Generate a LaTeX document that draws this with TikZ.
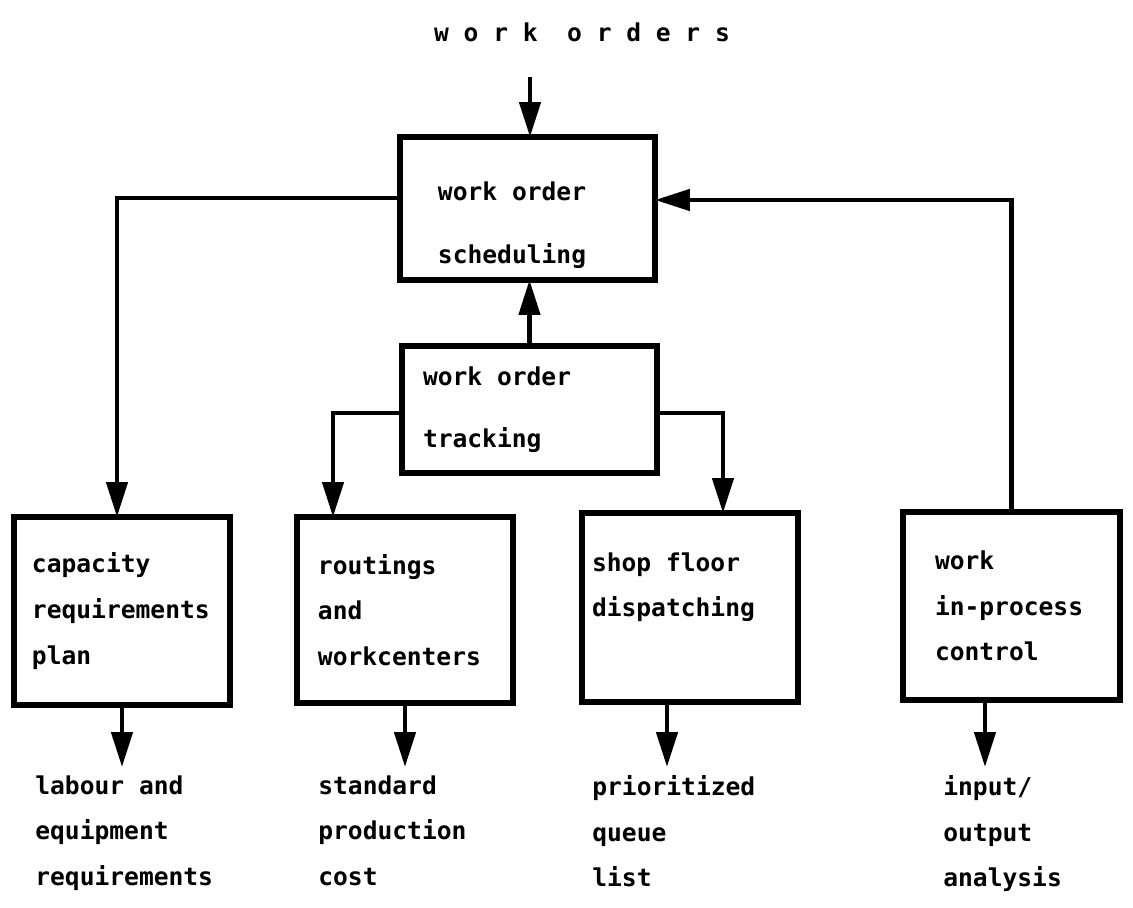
\documentclass[tikz,border=0pt]{standalone}
\usepackage{fontspec}
\setmonofont{DejaVu Sans Mono}
\usetikzlibrary{arrows.meta}
\begin{document}
\begin{tikzpicture}[x=0.02cm, y=-0.02cm,
    box/.style={draw, line width=3pt, anchor=north west, outer sep=0pt, align=flush left,
                font=\ttfamily\bfseries\fontsize{14}{26}\selectfont},
    outtext/.style={anchor=north west, align=left, inner xsep=0pt, inner ysep=0.16cm,
                font=\ttfamily\bfseries\fontsize{14}{26}\selectfont},
    arrow/.style={->, line width=2.6pt, >={Triangle[length=0.7cm, width=0.42cm]}}
]
\useasboundingbox (0,0) rectangle (1133,907);

% title
\node[font=\ttfamily\bfseries\fontsize{14}{26}\selectfont\addfontfeature{LetterSpace=60}] (orders) at (582,32) {work orders};

% upper boxes
\node[box, minimum width=5.1cm, minimum height=2.86cm, inner xsep=0.76cm, text width=3.58cm,
      font=\ttfamily\bfseries\fontsize{14}{36}\selectfont] (sched) at (400,137)
      {\rule{0pt}{1.05cm}work order\\scheduling};
\node[box, minimum width=5.1cm, minimum height=2.54cm, inner xsep=0.42cm, text width=4.26cm,
      font=\ttfamily\bfseries\fontsize{14}{35}\selectfont] (track) at (402,346)
      {work order\\tracking};

% lower boxes
\node[box, minimum width=4.32cm, minimum height=3.76cm, inner xsep=0.36cm, text width=3.6cm] (cap) at (14,517)
      {capacity\\requirements\\plan};
\node[box, minimum width=4.32cm, minimum height=3.72cm, inner xsep=0.42cm, text width=3.48cm] (rout) at (297,517)
      {routings\\and\\workcenters};
\node[box, minimum width=4.32cm, minimum height=3.78cm, inner xsep=0.2cm, text width=3.92cm] (shop) at (582,513)
      {shop floor\\dispatching\\\mbox{}};
\node[box, minimum width=4.34cm, minimum height=3.76cm, inner xsep=0.64cm, text width=3.06cm] (wip) at (903,512)
      {work\\in-process\\control};

% outputs
\node[outtext] (capout) at (35,767) {labour and\\equipment\\requirements};
\node[outtext] (routout) at (318,767) {standard\\production\\cost};
\node[outtext] (shopout) at (592,767) {prioritized\\queue\\list};
\node[outtext] (wipout) at (943,767) {input/\\output\\analysis};

% connectors
\coordinate (feed) at (530,77);
\draw[arrow] (feed) -- (feed |- sched.north);
\draw[arrow] (track.north) -- (track.north |- sched.south);
\draw[arrow] ([yshift=0.21cm]sched.west) -| ([xshift=-0.1cm]cap.north);
\draw[arrow] (wip.north) |- ([yshift=0.17cm]sched.east);
\draw[arrow] ([yshift=-0.07cm]track.west) -| ([xshift=-1.44cm]rout.north);
\draw[arrow] ([yshift=-0.07cm]track.east) -| ([xshift=0.66cm]shop.north);

\draw[arrow] (cap.south) -- (cap.south |- capout.north);
\draw[arrow] (rout.south) -- (rout.south |- routout.north);
\draw[arrow] ([xshift=-0.46cm]shop.south) -- ([xshift=-0.46cm]shop.south |- shopout.north);
\draw[arrow] ([xshift=-0.53cm]wip.south) -- ([xshift=-0.53cm]wip.south |- wipout.north);
\end{tikzpicture}
\end{document}
